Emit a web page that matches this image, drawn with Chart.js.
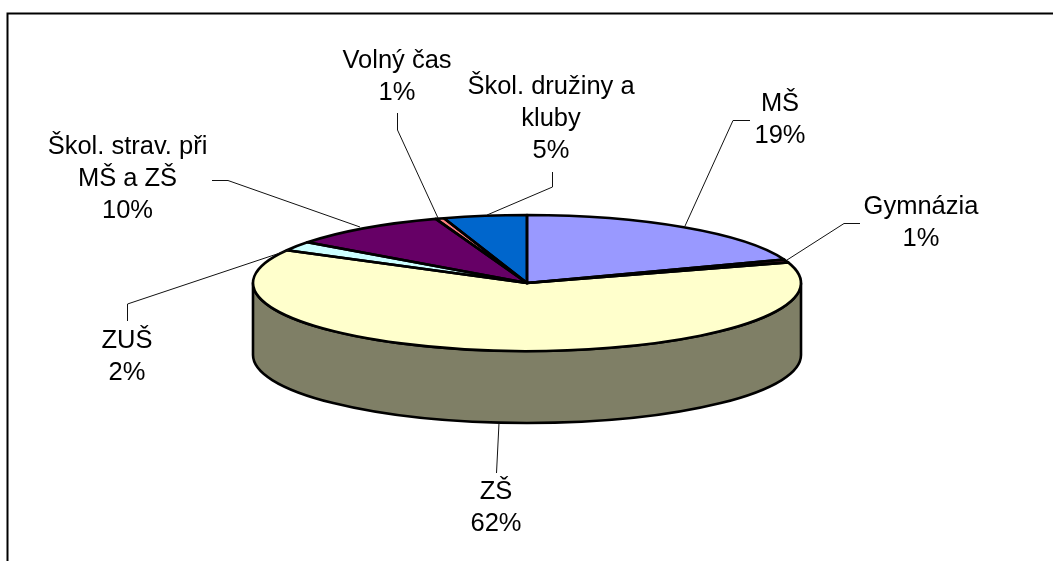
<!DOCTYPE html>
<html>
<head>
<meta charset="utf-8">
<style>
html,body{margin:0;padding:0;background:#fff;}
#wrap{position:relative;width:1053px;height:561px;}
canvas{display:block;}
</style>
<script src="https://cdn.jsdelivr.net/npm/chart.js@4"></script>
</head>
<body>
<div id="wrap"><canvas id="c" width="1053" height="561"></canvas></div>
<script>
const categories = ["MŠ","Gymnázia","ZŠ","ZUŠ","Škol. strav. při MŠ a ZŠ","Volný čas","Škol. družiny a kluby"];
const shares = [19.4,0.7,62.9,2.2,9.4,0.5,4.9];
const percentLabels = ["19%","1%","62%","2%","10%","1%","5%"];
const sliceColors = ["#9999FF","#993366","#FFFFCC","#CCFFFF","#660066","#FF8080","#0066CC"];

const labelLines = [["MŠ"],["Gymnázia"],["ZŠ"],["ZUŠ"],["Škol. strav. při","MŠ a ZŠ"],["Volný čas"],["Škol. družiny a","kluby"]];
const labelCenters = [[780,103],[921,206],[496,491],[127,340],[127.5,146],[397,60],[551,86]];
const leaders = [
  [[750,120.5],[733,120.5],[685,226]],
  [[860,223.5],[844,223.5],[787,260]],
  [[496.5,473],[499,423]],
  [[127.5,321],[127.5,304],[289,250]],
  [[212,180.5],[228,180.5],[360,227]],
  [[397.5,113],[397.5,130],[438,218]],
  [[552.5,172],[552.5,187],[487,215]]
];
const squash = 68/274, depth = 72, fontPx = 25.5, lineGap = 32, edge = 2.6;

function halfColor(hex){
  const n=parseInt(hex.slice(1),16);
  return `rgb(${(n>>16&255)>>1},${(n>>8&255)>>1},${(n&255)>>1})`;
}
function ellipsePath(ctx,el,a0,a1,dy,ccw){
  ctx.ellipse(el.x,el.y+dy,el.outerRadius,el.outerRadius*squash,0,a0,a1,!!ccw);
}
const pie3d = {
  id:'pie3d',
  beforeDraw(chart){
    const ctx=chart.ctx;
    ctx.save();
    ctx.strokeStyle='#000';ctx.lineWidth=2;
    ctx.beginPath();ctx.moveTo(7.5,561);ctx.lineTo(7.5,13.5);ctx.lineTo(1053,13.5);ctx.stroke();
    ctx.restore();
  },
  beforeDatasetsDraw(chart){
    const ctx=chart.ctx, arcs=chart.getDatasetMeta(0).data;
    ctx.save();
    ctx.lineWidth=edge;ctx.strokeStyle='#000';ctx.lineJoin='round';
    arcs.forEach((el,i)=>{
      const s=Math.max(el.startAngle,0),e=Math.min(el.endAngle,Math.PI);
      if(e<=s) return;
      ctx.beginPath();
      ellipsePath(ctx,el,s,e,0,false);
      ellipsePath(ctx,el,e,s,depth,true);
      ctx.closePath();
      ctx.fillStyle=halfColor(sliceColors[i]);
      ctx.fill();ctx.stroke();
    });
    ctx.restore();
    // squash the library's circular arcs into the tilted ellipse
    const c=arcs[0];
    ctx.save();
    ctx.translate(c.x,c.y);ctx.scale(1,squash);ctx.translate(-c.x,-c.y);
  },
  afterDatasetsDraw(chart){
    const ctx=chart.ctx, arcs=chart.getDatasetMeta(0).data;
    ctx.restore();
    ctx.save();
    ctx.lineWidth=edge;ctx.strokeStyle='#000';ctx.lineJoin='round';
    arcs.forEach(el=>{
      ctx.beginPath();
      ctx.moveTo(el.x,el.y);
      ellipsePath(ctx,el,el.startAngle,el.endAngle,0,false);
      ctx.closePath();
      ctx.stroke();
    });
    ctx.lineWidth=1;ctx.strokeStyle='#111';
    leaders.forEach(pts=>{
      ctx.beginPath();
      pts.forEach((p,i)=>i?ctx.lineTo(p[0],p[1]):ctx.moveTo(p[0],p[1]));
      ctx.stroke();
    });
    ctx.fillStyle='#000';ctx.textAlign='center';ctx.textBaseline='middle';
    ctx.font=fontPx+'px "Liberation Sans", Arial, sans-serif';
    labelLines.forEach((lines,i)=>{
      const [x,y]=labelCenters[i];
      [...lines,percentLabels[i]].forEach((t,k)=>ctx.fillText(t,x,y+1+k*lineGap));
    });
    ctx.restore();
  }
};
new Chart(document.getElementById('c'),{
  type:'pie',
  data:{labels:categories,datasets:[{data:shares,backgroundColor:sliceColors,borderWidth:0}]},
  options:{
    responsive:false,animation:false,events:[],
    layout:{padding:{left:253,right:252,top:9,bottom:4}},
    plugins:{legend:{display:false},tooltip:{enabled:false},title:{display:false}}
  },
  plugins:[pie3d]
});
</script>
</body>
</html>
